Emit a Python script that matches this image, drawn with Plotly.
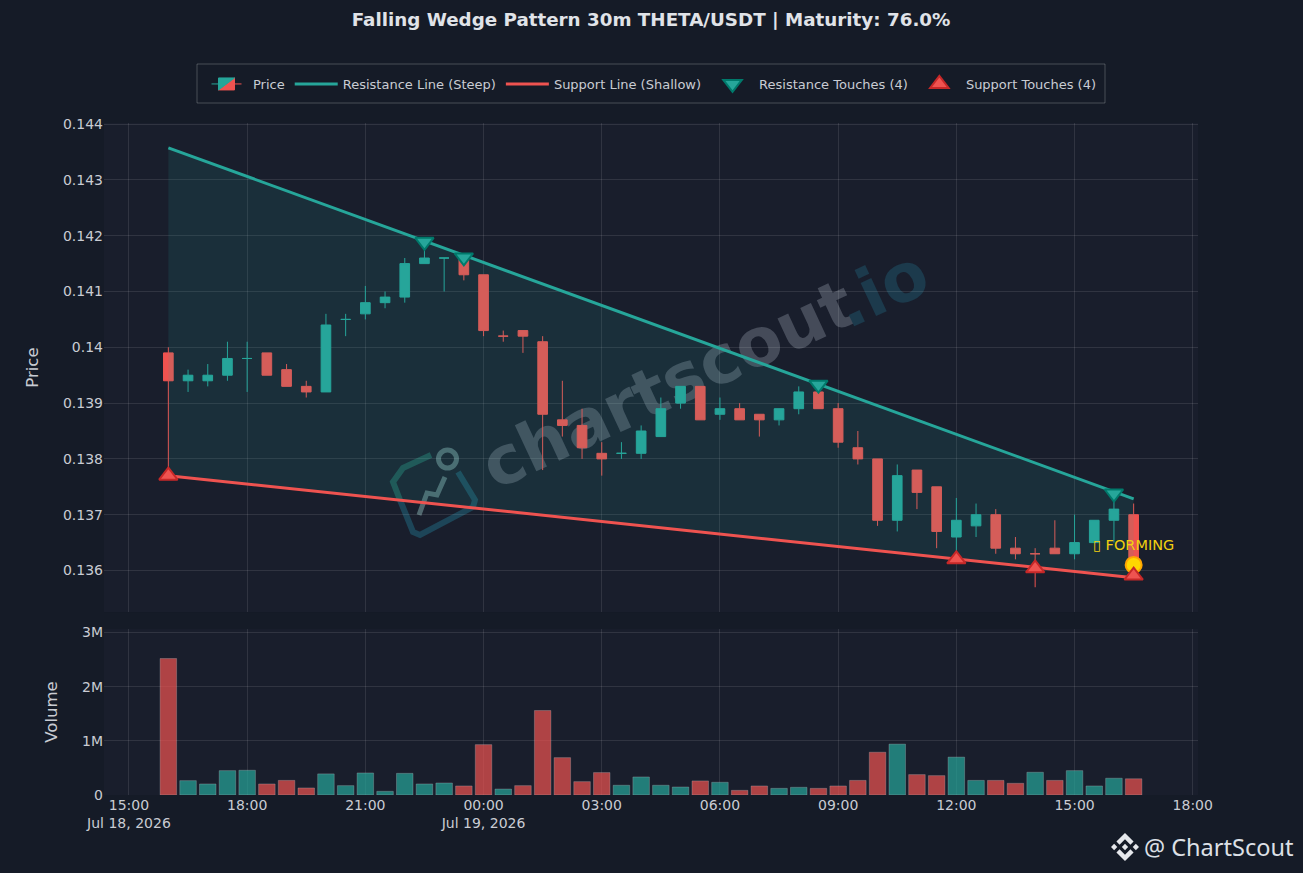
import pandas as pd
import plotly.graph_objects as go
from plotly.subplots import make_subplots

# 30 minute candles
start_time = "2026-07-18 16:00"
opens = [0.1399, 0.1394, 0.1394, 0.1395, 0.1398, 0.1399, 0.1396, 0.1393, 0.1392, 0.1405,
         0.1406, 0.1408, 0.1409, 0.1415, 0.1416, 0.1416, 0.1413, 0.1402, 0.1403, 0.1401,
         0.1387, 0.1386, 0.1381, 0.1381, 0.1381, 0.1384, 0.1390, 0.1393, 0.1388, 0.1389,
         0.1388, 0.1387, 0.1389, 0.1392, 0.1389, 0.1382, 0.1380, 0.1369, 0.1378, 0.1375,
         0.1366, 0.1368, 0.1370, 0.1364, 0.1363, 0.1364, 0.1363, 0.1365, 0.1369, 0.1370]
highs = [0.1400, 0.1396, 0.1397, 0.1401, 0.1401, 0.1399, 0.1397, 0.1394, 0.1406, 0.1406,
         0.1411, 0.1410, 0.1416, 0.1419, 0.1416, 0.1416, 0.1413, 0.1403, 0.1403, 0.1402,
         0.1394, 0.1389, 0.1383, 0.1383, 0.1386, 0.1391, 0.1393, 0.1393, 0.1391, 0.1390,
         0.1388, 0.1389, 0.1393, 0.1393, 0.1390, 0.1385, 0.1380, 0.1379, 0.1378, 0.1375,
         0.1373, 0.1372, 0.1371, 0.1366, 0.1364, 0.1369, 0.1370, 0.1369, 0.1374, 0.1372]
lows = [0.1377, 0.1392, 0.1393, 0.1394, 0.1392, 0.1395, 0.1393, 0.1391, 0.1392, 0.1402,
        0.1405, 0.1407, 0.1408, 0.1415, 0.1410, 0.1412, 0.1402, 0.1401, 0.1399, 0.1378,
        0.1384, 0.1380, 0.1377, 0.1380, 0.1380, 0.1384, 0.1389, 0.1387, 0.1387, 0.1387,
        0.1384, 0.1386, 0.1388, 0.1389, 0.1382, 0.1379, 0.1368, 0.1367, 0.1371, 0.1364,
        0.1362, 0.1366, 0.1363, 0.1362, 0.1357, 0.1363, 0.1362, 0.1365, 0.1365, 0.1359]
closes = [0.1394, 0.1395, 0.1395, 0.1398, 0.1398, 0.1395, 0.1393, 0.1392, 0.1404, 0.1405,
          0.1408, 0.1409, 0.1415, 0.1416, 0.1416, 0.1413, 0.1403, 0.1402, 0.1402, 0.1388,
          0.1386, 0.1382, 0.1380, 0.1381, 0.1385, 0.1389, 0.1393, 0.1387, 0.1389, 0.1387,
          0.1387, 0.1389, 0.1392, 0.1389, 0.1383, 0.1380, 0.1369, 0.1377, 0.1374, 0.1367,
          0.1369, 0.1370, 0.1364, 0.1363, 0.1363, 0.1363, 0.1365, 0.1369, 0.1371, 0.1361]
volumes = [2.52, 0.265, 0.204, 0.45, 0.457, 0.204, 0.27, 0.13, 0.39, 0.173,
           0.407, 0.068, 0.40, 0.204, 0.222, 0.167, 0.93, 0.11, 0.173, 1.56,
           0.69, 0.247, 0.414, 0.18, 0.333, 0.18, 0.148, 0.26, 0.235, 0.086,
           0.167, 0.123, 0.142, 0.123, 0.167, 0.27, 0.79, 0.94, 0.377, 0.358,
           0.70, 0.27, 0.27, 0.216, 0.42, 0.27, 0.45, 0.167, 0.31, 0.30]

# wedge lines, first and last candle
resistance_y = [0.143575, 0.137285]
support_y = [0.13770, 0.13587]

# touches: candle number and price
res_idx = [13, 15, 33, 48]
res_price = [0.14189, 0.14161, 0.13933, 0.13738]
sup_idx = [0, 40, 44, 49]
sup_price = [0.13770, 0.13620, 0.13604, 0.13591]

forming_price = 0.1361

UP = "#26a69a"
DOWN = "#ef5350"
PAPER = "#151b27"
PLOT = "#191e2c"
GRID = "rgba(255,255,255,0.10)"
TEXT = "#c9ccd3"

times = pd.date_range(start_time, periods=len(opens), freq="30min")
vol_m = [v * 1e6 for v in volumes]
vol_colors = [UP if c >= o else DOWN for o, c in zip(opens, closes)]
line_x = [times[0], times[-1]]

fig = make_subplots(rows=2, cols=1, shared_xaxes=True, row_heights=[0.75, 0.25], vertical_spacing=0.03)

fig.add_trace(go.Candlestick(x=times, open=opens, high=highs, low=lows, close=closes, name="Price",
                             increasing=dict(line=dict(color=UP, width=1), fillcolor=UP),
                             decreasing=dict(line=dict(color=DOWN, width=1), fillcolor=DOWN)), row=1, col=1)

# wedge area
fig.add_trace(go.Scatter(x=[times[0], times[-1], times[-1], times[0]],
                         y=[resistance_y[0], resistance_y[1], support_y[1], support_y[0]],
                         mode="lines", fill="toself", fillcolor="rgba(38,166,154,0.13)",
                         line=dict(width=0), showlegend=False, hoverinfo="skip"), row=1, col=1)

fig.add_trace(go.Scatter(x=line_x, y=resistance_y, mode="lines", name="Resistance Line (Steep)",
                         line=dict(color=UP, width=3)), row=1, col=1)
fig.add_trace(go.Scatter(x=line_x, y=support_y, mode="lines", name="Support Line (Shallow)",
                         line=dict(color=DOWN, width=3)), row=1, col=1)

# yellow dot goes under the triangles
fig.add_trace(go.Scatter(x=[times[-1]], y=[forming_price], mode="markers+text", text=["\u25af FORMING"],
                         textposition="top center", textfont=dict(color="#f2d00f", size=14.5),
                         marker=dict(size=16, color="#ffd700", line=dict(color="#ffa500", width=2)),
                         showlegend=False), row=1, col=1)

fig.add_trace(go.Scatter(x=times[res_idx], y=res_price, mode="markers", name="Resistance Touches (4)",
                         marker=dict(symbol="triangle-down", size=16, color=UP,
                                     line=dict(color="#00796b", width=2))), row=1, col=1)
fig.add_trace(go.Scatter(x=times[sup_idx], y=sup_price, mode="markers", name="Support Touches (4)",
                         marker=dict(symbol="triangle-up", size=16, color=DOWN,
                                     line=dict(color="#c62828", width=2))), row=1, col=1)

fig.add_trace(go.Bar(x=times, y=vol_m, name="Volume", showlegend=False,
                     marker=dict(color=vol_colors, opacity=0.7, line=dict(color="rgba(255,255,255,0.3)", width=1))),
              row=2, col=1)

# plot area in pixels, used to place the watermark bits
L, R, T, B = 104, 1198, 123, 795


def px(x, y):
    return (x - L) / (R - L), (B - y) / (B - T)


def path(points, close=False):
    s = ""
    for i, (x, y) in enumerate(points):
        a, b = px(x, y)
        s += ("M" if i == 0 else "L") + f"{a:.5f},{b:.5f} "
    return s + ("Z" if close else "")


shapes = []

# faint chartscout logo
shapes.append(dict(type="circle", xref="paper", yref="paper", layer="below",
                   x0=px(438.5, 0)[0], x1=px(456.5, 0)[0], y0=px(0, 468)[1], y1=px(0, 450)[1],
                   line=dict(color="#50676e", width=5), fillcolor="rgba(0,0,0,0)"))
shapes.append(dict(type="path", xref="paper", yref="paper", layer="below",
                   path=path([(419, 515), (427, 493), (437, 495), (445, 477)]),
                   line=dict(color="#50676e", width=5)))
shapes.append(dict(type="path", xref="paper", yref="paper", layer="below",
                   path=path([(431, 455), (403, 468), (393, 482), (400, 500)]),
                   line=dict(color="#1f5050", width=6)))
shapes.append(dict(type="path", xref="paper", yref="paper", layer="below",
                   path=path([(400, 500), (413, 532), (420, 535), (473, 507), (475, 500), (458, 472)]),
                   line=dict(color="#1d4558", width=6)))

# watermark words, as shape labels so they stay under the candles
x0, y0 = px(666, 380)
shapes.append(dict(type="rect", xref="paper", yref="paper", layer="below",
                   x0=x0 - 0.01, x1=x0 + 0.01, y0=y0 - 0.01, y1=y0 + 0.01,
                   line=dict(width=0), fillcolor="rgba(0,0,0,0)",
                   label=dict(text="<b>chartscout</b>", textangle=-25, textposition="middle center",
                              font=dict(family="DejaVu Sans", size=67, color="#454b59"))))
x0, y0 = px(879, 284)
shapes.append(dict(type="rect", xref="paper", yref="paper", layer="below",
                   x0=x0 - 0.01, x1=x0 + 0.01, y0=y0 - 0.01, y1=y0 + 0.01,
                   line=dict(width=0), fillcolor="rgba(0,0,0,0)",
                   label=dict(text="<b>.io</b>", textangle=-25, textposition="middle center",
                              font=dict(family="DejaVu Sans", size=67, color="#1c3a4c"))))

# binance mark bottom right
S = 28 / 32
OX, OY = 1111, 833
bnb = [
    [(9.8, 13.4), (16, 7.2), (22.2, 13.4), (25.8, 9.8), (16, 0), (6.2, 9.8)],
    [(0, 16), (3.6, 12.4), (7.2, 16), (3.6, 19.6)],
    [(9.8, 18.6), (16, 24.8), (22.2, 18.6), (25.8, 22.2), (16, 32), (6.2, 22.2)],
    [(24.8, 16), (28.4, 12.4), (32, 16), (28.4, 19.6)],
    [(19.6, 16), (16, 12.4), (12.4, 16), (16, 19.6)],
]
for poly in bnb:
    shapes.append(dict(type="path", xref="paper", yref="paper", layer="above",
                       path=path([(OX + x * S, OY + y * S) for x, y in poly], close=True),
                       fillcolor="#e6e8ec", line=dict(width=0)))

# legend frame is taller than plotly's own, so it is drawn separately
shapes.append(dict(type="rect", xref="paper", yref="paper", layer="above",
                   x0=px(197, 0)[0], x1=px(1105, 0)[0], y0=px(0, 103)[1], y1=px(0, 64)[1],
                   line=dict(color="rgba(255,255,255,0.22)", width=1), fillcolor="rgba(0,0,0,0)"))

fig.update_layout(
    width=1303, height=873,
    margin=dict(l=L, r=1303 - R, t=T, b=873 - B),
    paper_bgcolor=PAPER, plot_bgcolor=PLOT,
    font=dict(family="DejaVu Sans", color=TEXT, size=13),
    title=dict(text="<b>Falling Wedge Pattern 30m THETA/USDT | Maturity: 76.0%</b>", x=0.5, xref="paper",
               xanchor="center", y=0.977, yanchor="middle", font=dict(size=18.3, color="#e0e3e8")),
    legend=dict(orientation="h", x=0.5, xanchor="center", y=1 + (T - 84) / (B - T), yanchor="middle",
                bgcolor="rgba(0,0,0,0)", borderwidth=0, itemwidth=43,
                font=dict(size=13, color=TEXT)),
    shapes=shapes,
    bargap=0.16,
    annotations=[dict(text="@ ChartScout", xref="paper", yref="paper", x=px(1295, 0)[0], y=px(0, 847)[1],
                      xanchor="right", yanchor="middle", showarrow=False,
                      font=dict(family="Noto Sans", size=23.5, color="#dde0e6"))],
)

fig.update_xaxes(showgrid=True, gridcolor=GRID, zeroline=False, showline=False, dtick=3 * 3600000,
                 tick0="2026-07-18 00:00", range=["2026-07-18 14:22", "2026-07-19 18:08"],
                 rangeslider=dict(visible=False), tickfont=dict(size=14, color=TEXT))
fig.update_yaxes(showgrid=True, gridcolor=GRID, zeroline=False, showline=False, tickfont=dict(size=14, color=TEXT))
fig.update_yaxes(title=dict(text="Price", font=dict(size=16.5), standoff=20), range=[0.135256, 0.14402], dtick=0.001,
                 domain=[0.2723, 1], row=1, col=1)
fig.update_yaxes(title=dict(text="Volume", font=dict(size=16.5), standoff=20), range=[0, 3065000], dtick=1000000,
                 tickformat="~s", domain=[0, 0.247], row=2, col=1)

fig.write_html("out.html", config=dict(displayModeBar=False),
               post_script="document.body.style.margin='0';document.body.style.overflow='hidden';")
